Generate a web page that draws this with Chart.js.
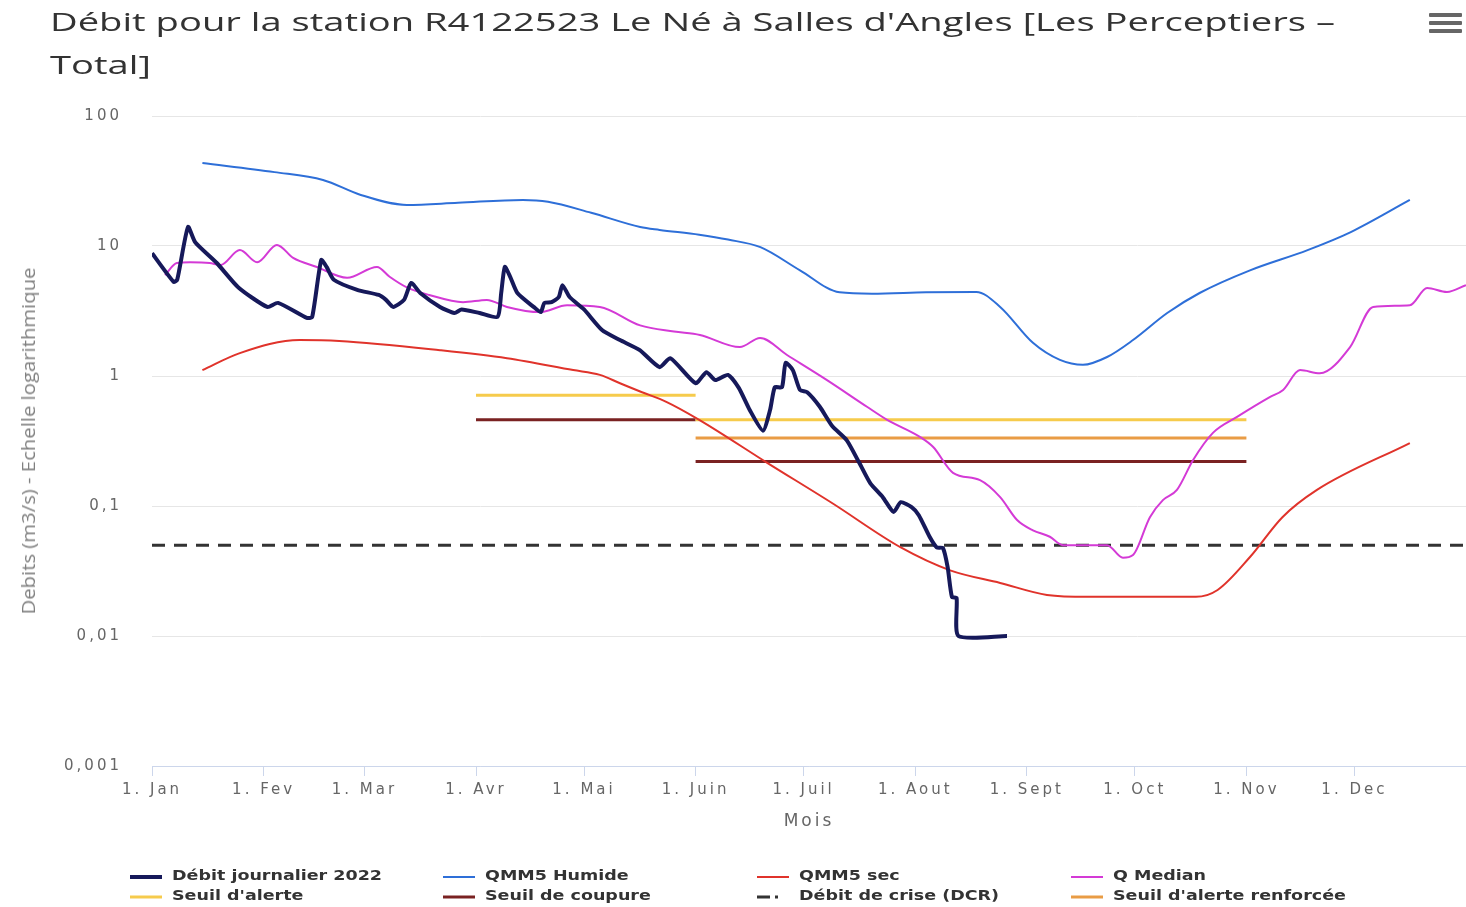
<!DOCTYPE html>
<html lang="fr">
<head>
<meta charset="utf-8">
<title>Débit R4122523 Le Né à Salles d'Angles</title>
<script src="https://cdn.jsdelivr.net/npm/chart.js@4.4.1/dist/chart.umd.min.js"></script>
<style>
  html, body { margin: 0; padding: 0; background: #fff; }
  #wrap { position: relative; width: 1466px; height: 907px; overflow: hidden; }
  #chart { position: absolute; left: 0; top: 0; }
  #title { position: absolute; left: 50px; top: 0; font-family: 'Open Sans', sans-serif; font-size: 26px;
           line-height: 43px; color: #333; white-space: nowrap; transform-origin: 0 0; }
  #menu { position: absolute; left: 1429px; top: 13px; width: 33px; }
  #menu span { display: block; height: 4px; background: #666; margin-bottom: 4px; border-radius: 1px; }
  #ytitle { position: absolute; left: 28px; top: 441px; font-family: 'Open Sans', sans-serif; font-size: 18px;
            color: #808080; white-space: nowrap; }
  .lg { position: absolute; height: 20px; display: flex; align-items: center; white-space: nowrap; }
  .lg svg { flex: none; }
  .lg span { position: absolute; left: 42px; top: 0; line-height: 20px; font: bold 14px 'DejaVu Sans', sans-serif;
             color: #333; transform: scaleX(1.25); transform-origin: 0 50%; }
</style>
</head>
<body>
<div id="wrap">
  <canvas id="chart" width="1466" height="907"></canvas>
  <div id="title"><span id="t1">Débit pour la station R4122523 Le Né à Salles d'Angles [Les Perceptiers –</span><br><span>Total]</span></div>
  <div id="menu"><span></span><span></span><span></span></div>
  <div id="ytitle">Debits (m3/s) - Echelle logarithmique</div>
  <div id="legend"></div>
</div>
<script>
/* ── axes ── */
const monthStarts = [0, 31, 59, 90, 120, 151, 181, 212, 243, 273, 304, 334];
const monthLabels = ['1. Jan', '1. Fev', '1. Mar', '1. Avr', '1. Mai', '1. Juin', '1. Juil', '1. Aout', '1. Sept', '1. Oct', '1. Nov', '1. Dec'];
const yTicks      = [0.001, 0.01, 0.1, 1, 10, 100];
const yTickLabels = ['0,001', '0,01', '0,1', '1', '10', '100'];

/* ── series (day of year, m3/s) ── */
const debitDays = [0, 6, 7, 10, 12, 18, 24, 32, 35, 43, 44.5, 47, 48.5, 50.5, 57, 63, 65, 67, 70, 72, 74.5, 80, 84, 86, 91, 96, 97, 98, 99.5, 101.5,
                   106, 108, 109, 111, 113, 114, 116, 120, 125, 130, 135.5, 141, 144, 151, 154, 156.5, 160, 163, 166, 169.7, 171.7, 173, 175, 176, 178, 180, 182, 185.5, 189, 193,
                   196.5, 199.5, 203, 206, 208, 211, 213, 216, 218, 219.7, 221, 222.2, 223.5, 224, 237.5];
const debitValues = [8.8, 5.3, 5.5, 14, 10.7, 7.4, 4.8, 3.4, 3.65, 2.8, 2.85, 7.8, 6.9, 5.5, 4.6, 4.2, 3.85, 3.4, 3.85, 5.2, 4.35, 3.4, 3.05, 3.25, 3.05, 2.85, 4.35, 6.9, 5.8, 4.35,
                     3.4, 3.1, 3.65, 3.7, 4.05, 5.0, 4.05, 3.25, 2.26, 1.89, 1.58, 1.17, 1.37, 0.88, 1.07, 0.93, 1.02, 0.81, 0.55, 0.38, 0.55, 0.82, 0.82, 1.26, 1.11, 0.78, 0.75, 0.58, 0.41, 0.32,
                     0.214, 0.15, 0.117, 0.09, 0.107, 0.098, 0.085, 0.058, 0.048, 0.0475, 0.034, 0.02, 0.0196, 0.01, 0.01];

const humideDays   = [14, 34, 47.5, 58, 70.8, 85, 103, 110, 122, 135.6, 141, 152, 160, 169, 180, 191, 200, 215, 229, 235.6,
                      244.7, 252.2, 258.6, 265.3, 272.5, 282, 291, 305, 321, 333, 349.4];
const humideValues = [43.5, 37, 32.2, 24.7, 20.7, 21.5, 22.6, 21.9, 18, 14, 13.3, 12.2, 11.2, 9.8, 6.5, 4.4, 4.3, 4.4, 4.43, 3.4,
                      1.8, 1.33, 1.22, 1.4, 1.89, 3.05, 4.35, 6.5, 9.3, 12.8, 22.6];

const secDays   = [14, 24.4, 41, 52, 80, 98.6, 117, 124.4, 130, 135.6, 143, 152, 171, 189, 208, 221.7, 235.6, 248.6, 260, 290, 296, 305, 314, 323.6, 349.4];
const secValues = [1.11, 1.5, 1.89, 1.86, 1.58, 1.37, 1.11, 1.02, 0.88, 0.76, 0.63, 0.46, 0.214, 0.105, 0.048, 0.032, 0.0256, 0.0207, 0.02, 0.02, 0.0226, 0.0405, 0.082, 0.133, 0.305];

const medianDays   = [3.6, 6.9, 10.6, 16, 19, 24.4, 29.2, 34.7, 39.2, 45.8, 54.2, 62.5, 66, 70.8, 77, 86.4, 93, 98.6, 107.8, 115.3,
                      124.4, 135.6, 145, 152.2, 163.3, 168.9, 176.4, 187.5, 198.6, 204.2, 213.3, 217, 222.5, 230, 235.6, 240.3, 244.7, 249.4, 253, 265.3,
                      269.7, 272.5, 277.2, 280.8, 284.7, 289.2, 294.7, 301.4, 310.6, 314.2, 318.9, 324.4, 332.8, 339.2, 349.4, 354.2, 359.7, 365];
const medianValues = [5.98, 7.4, 7.5, 7.4, 7.14, 9.3, 7.5, 10.2, 8.1, 6.9, 5.7, 6.9, 5.8, 4.8, 4.2, 3.7, 3.85, 3.4, 3.1, 3.5,
                      3.4, 2.45, 2.2, 2.07, 1.67, 1.96, 1.45, 0.93, 0.58, 0.46, 0.34, 0.284, 0.18, 0.158, 0.117, 0.078, 0.065, 0.058, 0.05, 0.05,
                      0.04, 0.042, 0.082, 0.111, 0.133, 0.226, 0.365, 0.484, 0.69, 0.78, 1.11, 1.05, 1.67, 3.4, 3.5, 4.75, 4.43, 5.0];

/* ── thresholds, per period ── */
const periodStart    = [90, 151];
const periodEnd      = [151, 304];
const seuilAlerte    = [0.71, 0.46];
const seuilCoupure   = [0.46, 0.22];
const seuilRenforcee = [null, 0.333];
const dcrDays        = [0, 365];
const dcrValue       = 0.05;

function pts(days, vals) { return days.map((d, i) => ({ x: d, y: vals[i] })); }
function steps(vals) {
    const out = [];
    periodStart.forEach((s, i) => {
        if (vals[i] == null) return;
        out.push({ x: s, y: vals[i] }, { x: periodEnd[i], y: vals[i] }, { x: periodEnd[i], y: null });
    });
    return out;
}

const smooth = { tension: 0.4, cubicInterpolationMode: 'monotone' };

const datasets = [
    { label: 'Débit journalier 2022', data: pts(debitDays, debitValues), borderColor: '#16195a', borderWidth: 4, tension: 0.2, borderJoinStyle: 'round' },
    { label: 'QMM5 Humide', data: pts(humideDays, humideValues), borderColor: '#2e6fd8', borderWidth: 2, ...smooth },
    { label: 'QMM5 sec', data: pts(secDays, secValues), borderColor: '#e0332b', borderWidth: 2, ...smooth },
    { label: 'Q Median', data: pts(medianDays, medianValues), borderColor: '#d43ad6', borderWidth: 2, ...smooth },
    { label: "Seuil d'alerte", data: steps(seuilAlerte), borderColor: '#f6cb4c', borderWidth: 3, spanGaps: false },
    { label: 'Seuil de coupure', data: steps(seuilCoupure), borderColor: '#7a2222', borderWidth: 3, spanGaps: false },
    { label: 'Débit de crise (DCR)', data: dcrDays.map(d => ({ x: d, y: dcrValue })), borderColor: '#333333', borderWidth: 3, borderDash: [13, 9] },
    { label: "Seuil d'alerte renforcée", data: steps(seuilRenforcee), borderColor: '#e99c45', borderWidth: 3, spanGaps: false },
];

/* canvas text in the source is spaced out */
const spacing = {
    id: 'spacing',
    beforeUpdate(c) { c.ctx.letterSpacing = '3px'; },
    beforeDraw(c)   { c.ctx.letterSpacing = '3px'; }
};

const chart = new Chart(document.getElementById('chart').getContext('2d'), {
    type: 'line',
    data: { datasets },
    plugins: [spacing],
    options: {
        responsive: false,
        animation: false,
        devicePixelRatio: 1,
        layout: { padding: { top: 116, right: 0, bottom: 71, left: 0 } },
        elements: { point: { radius: 0 } },
        plugins: { legend: { display: false }, tooltip: { enabled: false } },
        scales: {
            x: {
                type: 'linear', min: 0, max: 365,
                afterBuildTicks: s => { s.ticks = monthStarts.map(v => ({ value: v })); },
                afterFit: s => { s.height = 70; },
                ticks: { autoSkip: false, maxRotation: 0, padding: 5, color: '#666',
                         font: { family: 'DejaVu Sans', size: 15 },
                         callback: (v, i) => monthLabels[i] },
                grid: { drawOnChartArea: false, tickLength: 10, color: '#ccd6eb' },
                border: { color: '#ccd6eb' },
                title: { display: true, text: 'Mois', color: '#666', font: { family: 'DejaVu Sans', size: 17 } }
            },
            y: {
                type: 'logarithmic', min: 0.001, max: 100,
                afterBuildTicks: s => { s.ticks = yTicks.map(v => ({ value: v })); },
                afterFit: s => { s.width = 152; },
                ticks: { padding: 30, color: '#666', font: { family: 'DejaVu Sans', size: 15 },
                         callback: (v, i) => yTickLabels[i] },
                grid: { color: '#e6e6e6', drawTicks: false },
                border: { display: false }
            }
        }
    }
});

/* ── legend (4 columns, 2 rows) ── */
const legendCols = [130, 443, 757, 1071];
const legendRows = [867, 887];
const legendBox = document.getElementById('legend');
chart.data.datasets.forEach((ds, i) => {
    const item = document.createElement('div');
    item.className = 'lg';
    item.style.left = legendCols[i % 4] + 'px';
    item.style.top  = legendRows[Math.floor(i / 4)] + 'px';
    const dash = ds.borderDash ? 'stroke-dasharray="13 5 3 20"' : '';
    const w = Math.min(ds.borderWidth, 4);
    item.innerHTML = `<svg width="32" height="20"><line x1="0" y1="10" x2="32" y2="10" stroke="${ds.borderColor}" stroke-width="${w}" ${dash}/></svg><span>${ds.label}</span>`;
    legendBox.appendChild(item);
});

/* ── stretch title / axis title to source widths ── */
const title = document.getElementById('title');
const k = 1285 / document.getElementById('t1').getBoundingClientRect().width;
title.style.transform = `scaleX(${k})`;

const yt = document.getElementById('ytitle');
const kw = 347 / yt.getBoundingClientRect().width;
yt.style.transform = `translate(-50%, -50%) rotate(-90deg) scaleX(${kw})`;
</script>
</body>
</html>
